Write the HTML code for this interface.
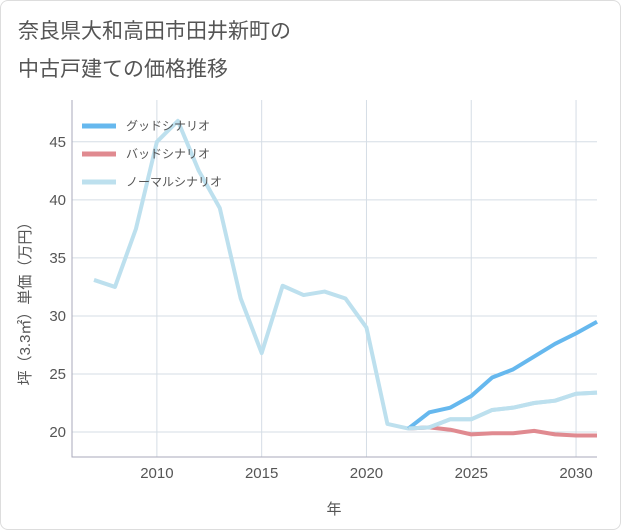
<!DOCTYPE html>
<html><head><meta charset="utf-8"><style>
body{margin:0;background:#fff;font-family:"Liberation Sans","Noto Sans CJK JP",sans-serif;}
#card{position:absolute;left:0;top:0;width:619px;height:528px;border:1px solid #ddd;border-radius:8px;background:#fff;}
</style></head><body>
<div id="card">
<svg id="chart" width="621" height="530" style="position:absolute;left:-1px;top:-1px">
<text x="18" y="38" font-size="21" fill="#555">奈良県大和高田市田井新町の</text>
<text x="18" y="76" font-size="21" fill="#555">中古戸建ての価格推移</text>
<g id="grid"></g><g id="series"></g><g id="legend"></g>
<text x="334" y="514" font-size="15" fill="#555" text-anchor="middle">年</text>
<text transform="translate(30,300) rotate(-90)" font-size="15" fill="#555" text-anchor="middle">坪（3.3㎡）単価（万円）</text>
</svg></div>
<script>
const years=[2007,2008,2009,2010,2011,2012,2013,2014,2015,2016,2017,2018,2019,2020,2021,2022,2023,2024,2025,2026,2027,2028,2029,2030,2031];
const normalValues=[33.1,32.5,37.5,45,46.8,42.5,39.3,31.5,26.8,32.6,31.8,32.1,31.5,29,20.7,20.3,20.4,21.1,21.1,21.9,22.1,22.5,22.7,23.3,23.4];
const forecastYears=[2022,2023,2024,2025,2026,2027,2028,2029,2030,2031];
const goodValues=[20.3,21.7,22.1,23.1,24.7,25.4,26.5,27.6,28.5,29.5];
const badValues=[20.3,20.4,20.2,19.8,19.9,19.9,20.1,19.8,19.7,19.7];
const xTicks=[2010,2015,2020,2025,2030];
const yTicks=[20,25,30,35,40,45];
const L=72,R=597,T=100,B=457,x0=2005.95,x1=2031,y0=17.85,y1=48.6;
const X=v=>L+(v-x0)/(x1-x0)*(R-L);
const Y=v=>B-(v-y0)/(y1-y0)*(B-T);
const NS="http://www.w3.org/2000/svg";
function mk(tag,attrs,parent){const e=document.createElementNS(NS,tag);for(const k in attrs)e.setAttribute(k,attrs[k]);parent.appendChild(e);return e;}
const grid=document.getElementById('grid');
const bg=mk('rect',{x:L,y:T,width:R-L,height:B-T,fill:'#fff'},grid);


xTicks.forEach(t=>{
 const l=mk('line',{x1:X(t),x2:X(t),y1:T,y2:B,stroke:'#d5dde5','stroke-width':1},grid);
 
 
 const tx=mk('text',{x:X(t),y:B+21,'font-size':15,fill:'#555','text-anchor':'middle'},grid);
 tx.textContent=t;
 
 
});
yTicks.forEach(t=>{
 const l=mk('line',{x1:L,x2:R,y1:Y(t),y2:Y(t),stroke:'#d5dde5','stroke-width':1},grid);
 
 
 const tx=mk('text',{x:L-6,y:Y(t)+5,'font-size':15,fill:'#555','text-anchor':'end'},grid);
 tx.textContent=t;
 
 
});
const ax=mk('path',{d:`M${L} ${T}V${B}H${R}`,stroke:'#aab',fill:'none','stroke-width':1},grid);


const S=document.getElementById('series');
function line(xs,vs,color,name){
 const p=mk('polyline',{points:xs.map((x,i)=>X(x)+','+Y(vs[i])).join(' '),fill:'none',stroke:color,'stroke-width':4,'stroke-linejoin':'round'},S);
 
 
}
line(years,normalValues,'#bde0ee','normal-scenario-line');
line(forecastYears,badValues,'#e08a90','bad-scenario-line');
line(forecastYears,goodValues,'#66b8ee','good-scenario-line');
line(forecastYears,normalValues.slice(15),'#bde0ee','normal-scenario-forecast-line');
const lg=document.getElementById('legend');
[['グッドシナリオ','#66b8ee'],['バッドシナリオ','#e08a90'],['ノーマルシナリオ','#bde0ee']].forEach((d,i)=>{
 const y=126+i*28;
 const g=mk('g',{},lg);
 
 
 mk('line',{x1:82,x2:116,y1:y,y2:y,stroke:d[1],'stroke-width':5},g);
 const t=mk('text',{x:126,y:y+4,'font-size':12,fill:'#555'},g);
 t.textContent=d[0];
});
</script>
</body></html>
